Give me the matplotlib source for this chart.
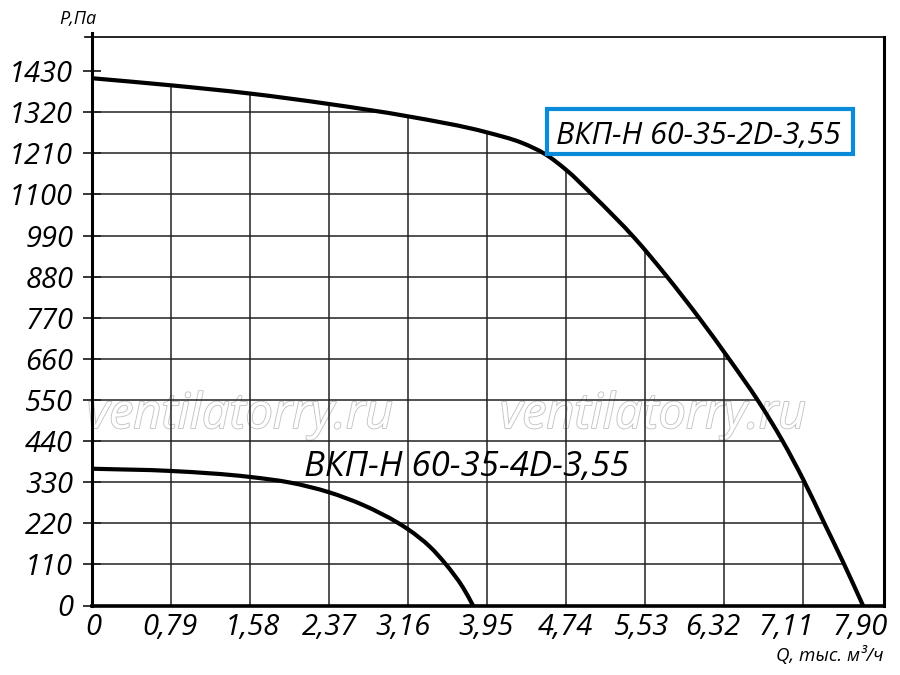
import numpy as np
import matplotlib
matplotlib.use('Agg')
import matplotlib.pyplot as plt
from matplotlib.patches import PathPatch, Rectangle
from matplotlib.path import Path
from matplotlib.transforms import ScaledTranslation, blended_transform_factory
import matplotlib.patheffects as pe

# ---------------- data ----------------
q_2d = [0, 0.79, 1.58, 2.37, 3.16, 3.95, 4.30, 4.525, 4.74, 5.00, 5.43, 5.75, 6.07, 6.37, 6.67, 6.90, 7.12, 7.32, 7.52, 7.71]
p_2d = [1411, 1392, 1370, 1342, 1309, 1266, 1238, 1209, 1166, 1100, 982, 880, 770, 660, 544, 443, 333, 222, 111, 0]

q_4d = [0, 0.79, 1.58, 1.98, 2.37, 2.71, 3.06, 3.16, 3.38, 3.53, 3.71, 3.81]
p_4d = [366, 360, 344, 329, 303, 269, 221, 204, 157, 113, 48, 0]

x_ticks = [0, 0.79, 1.58, 2.37, 3.16, 3.95, 4.74, 5.53, 6.32, 7.11, 7.90]
x_tick_labels = ['0', '0,79', '1,58', '2,37', '3,16', '3,95', '4,74', '5,53', '6,32', '7,11', '7,90']
y_ticks = [0, 110, 220, 330, 440, 550, 660, 770, 880, 990, 1100, 1210, 1320, 1430]
y_tick_labels = ['0', '110', '220', '330', '440', '550', '660', '770', '880', '990', '1100', '1210', '1320', '1430']

label_2d = 'ВКП-Н 60-35-2D-3,55'
label_4d = 'ВКП-Н 60-35-4D-3,55'
x_title = 'Q, тыс. м³/ч'
y_title = 'P,Па'
watermark = 'ventilatorry.ru'

# ---------------- layout / style ----------------
plt.rcParams['font.family'] = ['Open Sans', 'DejaVu Sans']
plt.rcParams['font.style'] = 'italic'
W, H = 900, 675
fig = plt.figure(figsize=(9, 6.75), dpi=100)
ax = fig.add_axes([92 / W, 69.5 / H, 792 / W, 572.5 / H])
ax.set_xlim(0, 7.92)
ax.set_ylim(0, 1532)
y_top = 1520


def fpx(x, y):
    return x / W, 1 - y / H


def smooth_path(xs, ys, close_to_axis=False):
    """Smooth Bezier path through the data points (Bessel tangents, chord-length, display space)."""
    P = ax.transData.transform(np.column_stack([xs, ys]))
    n = len(P)
    D = [np.linalg.norm(P[i + 1] - P[i]) for i in range(n - 1)]
    T = []
    for i in range(n):
        if i == 0:
            t = (P[1] - P[0]) / D[0]
        elif i == n - 1:
            t = (P[-1] - P[-2]) / D[-1]
        else:
            a = P[i] - P[i - 1]
            b = P[i + 1] - P[i]
            d1, d2 = D[i - 1], D[i]
            t = (d2 / (d1 * (d1 + d2))) * a + (d1 / (d2 * (d1 + d2))) * b
        T.append(t)
    verts = [P[0]]
    codes = [Path.MOVETO]
    for i in range(n - 1):
        L = D[i]
        verts += [P[i] + T[i] * L / 3, P[i + 1] - T[i + 1] * L / 3, P[i + 1]]
        codes += [Path.CURVE4] * 3
    verts = list(ax.transData.inverted().transform(np.array(verts)))
    if close_to_axis:
        verts += [(xs[-1], 0), (xs[0], 0), (xs[0], 0)]
        codes += [Path.LINETO, Path.LINETO, Path.CLOSEPOLY]
    return Path(np.array(verts), codes)


# spines
ax.spines['top'].set_visible(False)
ax.spines['left'].set_linewidth(2.2)
ax.spines['bottom'].set_linewidth(2.6)
ax.spines['right'].set_linewidth(2.2)
ax.spines['right'].set_bounds(0, y_top)
ax.plot([-0.009, 1.0], [y_top, y_top], color='black', lw=1.2,
        transform=blended_transform_factory(ax.transAxes, ax.transData), clip_on=False)

# y ticks
ax.set_yticks(y_ticks, y_tick_labels, fontsize=21, fontstyle='italic')
ax.tick_params(axis='y', direction='inout', length=13, width=1.1, pad=7)
ax.set_xticks([])

# x tick labels (shifted as in reference)
x_shift_px = [1, -1, 2, 1, -5, -1, -1, -3, -11, -17, -22]
bt = blended_transform_factory(ax.transData, ax.transAxes)
for v, lab, dx in zip(x_ticks, x_tick_labels, x_shift_px):
    ax.text(v, 0, lab, transform=bt + ScaledTranslation(dx / 100, -22 / 100, fig.dpi_scale_trans),
            ha='center', va='center', fontsize=21, fontstyle='italic', clip_on=False)

# clip region: area below 2D curve
clip_patch = PathPatch(smooth_path(q_2d, p_2d, close_to_axis=True), transform=ax.transData,
                       facecolor='none', edgecolor='none')

vl = ax.vlines(x_ticks[1:], 0, y_top, colors='#222222', linewidth=1.1, zorder=2)
hl = ax.hlines(y_ticks[1:], 0, 7.92, colors='#222222', linewidth=1.1, zorder=2)
vl.set_clip_path(clip_patch)
hl.set_clip_path(clip_patch)

# watermark
for cx in (240, 653):
    ax.text(*fpx(cx, 428), watermark, transform=fig.transFigure, ha='center', va='baseline',
            fontsize=35, fontstyle='italic', color='white', zorder=1,
            path_effects=[pe.withStroke(linewidth=1.3, foreground='#c4c4c4')])

# curves
for qs, ps in ((q_2d, p_2d), (q_4d, p_4d)):
    ax.add_patch(PathPatch(smooth_path(qs, ps), transform=ax.transData, facecolor='none',
                           edgecolor='black', lw=3, zorder=4, capstyle='butt'))

# labels
x0, y0 = fpx(547, 154)
x1, y1 = fpx(853, 109)
fig.patches.append(Rectangle((x0, y0), x1 - x0, y1 - y0, transform=fig.transFigure,
                             facecolor='white', edgecolor='#0a8bd9', linewidth=3, zorder=5))
fig.text(*fpx(698, 144), label_2d, ha='center', va='baseline', fontsize=22, fontstyle='italic', zorder=6)
ax.text(*fpx(467, 476), label_4d, transform=fig.transFigure, ha='center', va='baseline',
        fontsize=25, fontstyle='italic', zorder=6)

fig.text(*fpx(78, 24), y_title, ha='center', va='baseline', fontsize=13, fontstyle='italic')
fig.text(*fpx(884, 661), x_title, ha='right', va='baseline', fontsize=13.5, fontstyle='italic')

fig.savefig('out.png', dpi=100)
